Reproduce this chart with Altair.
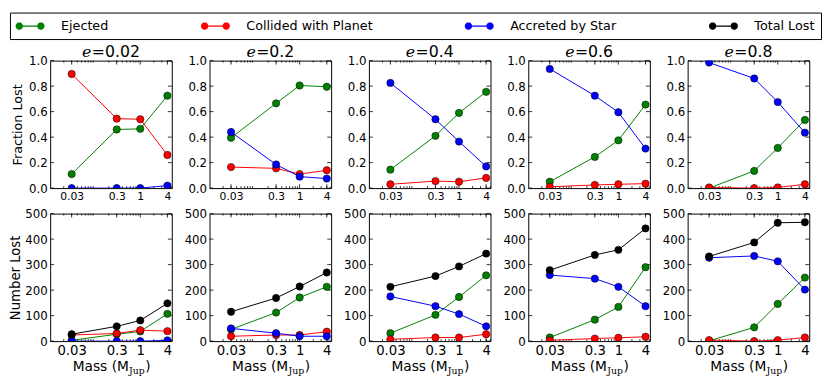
import math
import altair as alt
import pandas as pd

# ---------------- data ----------------
ECC = ["0.02", "0.2", "0.4", "0.6", "0.8"]
MASS = [0.03, 0.3, 1, 4]
SERIES = ["Ejected", "Collided with Planet", "Accreted by Star", "Total Lost"]
COLORS = ["#008000", "#ff0000", "#0000ff", "#000000"]

FRAC_EJECTED = [[0.11, 0.46, 0.465, 0.725], [0.395, 0.665, 0.805, 0.795], [0.145, 0.41, 0.59, 0.755],
                [0.05, 0.245, 0.375, 0.655], [0.0, 0.135, 0.315, 0.535]]
FRAC_COLLIDED = [[0.895, 0.545, 0.54, 0.26], [0.165, 0.155, 0.11, 0.14], [0.03, 0.055, 0.05, 0.08],
                 [0.01, 0.025, 0.03, 0.035], [0.005, 0.0, 0.005, 0.03]]
FRAC_ACCRETED = [[0.0, 0.0, 0.0, 0.02], [0.44, 0.185, 0.09, 0.075], [0.825, 0.54, 0.365, 0.17],
                 [0.935, 0.725, 0.595, 0.31], [0.985, 0.86, 0.675, 0.435]]

NUM_EJECTED = [[3, 27, 38, 107], [46, 112, 171, 213], [31, 103, 173, 258], [14, 84, 134, 290], [1, 54, 146, 249]]
NUM_COLLIDED = [[24, 30, 43, 39], [19, 24, 24, 37], [7, 14, 14, 27], [3, 10, 13, 17], [4, 0, 4, 14]]
NUM_ACCRETED = [[0, 0, 0, 3], [50, 31, 19, 19], [175, 137, 106, 58], [259, 245, 213, 137], [327, 334, 313, 202]]
NUM_TOTAL = [[27, 58, 81, 148], [115, 169, 214, 269], [213, 255, 293, 343], [278, 338, 358, 442], [332, 387, 464, 466]]

X_TICK_LABELS = [0.03, 0.3, 1, 4]
X_MINOR = [0.02, 0.03, 0.04, 0.05, 0.06, 0.07, 0.08, 0.09, 0.2, 0.3, 0.4, 0.5, 0.6, 0.7, 0.8, 0.9, 2, 3, 4, 5]
Y_TICKS_FRAC = [0.0, 0.2, 0.4, 0.6, 0.8, 1.0]
Y_TICKS_NUM = [0, 100, 200, 300, 400, 500]
X_DOMAIN = [0.01, 5]

# ---------------- layout / style ----------------
W, H = 124, 130
SANS = "DejaVu Sans"
SERIF = "DejaVu Serif"

cscale = alt.Scale(domain=SERIES, range=COLORS)


def poly_circle(cx, r, n=18):
    pts = [(cx + r * math.cos(2 * math.pi * k / n), r * math.sin(2 * math.pi * k / n)) for k in range(n)]
    return "M" + " L".join(f"{x:.3f},{y:.3f}" for x, y in pts) + " Z"


SYMBOL_PATH = ("M-1.467,-0.08 L1.467,-0.08 L1.467,0.08 L-1.467,0.08 Z "
               + poly_circle(-1.467, 0.5) + " " + poly_circle(1.467, 0.5))

legend = alt.Legend(
    title=None, orient="none", legendX=-41, legendY=-49, direction="horizontal", columns=4,
    columnPadding=93, padding=6, strokeColor="black", fillColor="white", cornerRadius=0,
    symbolType=SYMBOL_PATH, symbolSize=225, symbolOffset=7, symbolStrokeWidth=0,
    labelOffset=24, labelFontSize=13, labelFont=SANS, labelColor="black", rowPadding=0,
    labelLimit=300,
)


def long_df(arrays, names, i):
    rows = []
    for s, arr in zip(names, arrays):
        for m, v in zip(MASS, arr[i]):
            rows.append({"mass": m, "series": s, "value": v})
    return pd.DataFrame(rows)


def text_layer(txt, x, y, size, font, style="normal", align="left"):
    return alt.Chart(pd.DataFrame({"label": [txt]})).mark_text(
        align=align, baseline="alphabetic", fontSize=size, font=font, fontStyle=style, color="black"
    ).encode(x=alt.value(x), y=alt.value(y), text="label:N")


def panel(df, i, row):
    xs = alt.Scale(type="log", domain=X_DOMAIN, nice=False)
    ydom = [0, 1] if row == 0 else [0, 500]
    ys = alt.Scale(domain=ydom, nice=False, zero=False)
    yvals = Y_TICKS_FRAC if row == 0 else Y_TICKS_NUM
    ytitle = None
    if i == 0:
        ytitle = "Fraction Lost" if row == 0 else "Number Lost"
    xaxis = alt.Axis(values=X_TICK_LABELS, format="~g", title=None, ticks=False, tickSize=0, domain=False,
                     grid=False, labelFontSize=11 if row == 0 else 13.5, labelPadding=3, labelColor="black",
                     labelFont=SANS, labelFlush=False, labelOverlap=False)
    yaxis = alt.Axis(values=yvals, format=".1f" if row == 0 else "d", title=ytitle, ticks=False, tickSize=0,
                     domain=False, grid=False, labelFontSize=12, labelPadding=3, labelColor="black",
                     labelFont=SANS, titleFont=SANS, titleFontSize=13 if row == 0 else 13.5,
                     titleFontWeight="normal", titleColor="black", titlePadding=4 if row == 0 else 2,
                     labelFlush=False)

    def xrule(vals, top, length):
        d = pd.DataFrame({"t": vals})
        y0, y1 = (0, length) if top else (H, H - length)
        return alt.Chart(d).mark_rule(color="black", strokeWidth=0.8).encode(
            x=alt.X("t:Q", scale=xs, axis=xaxis), y=alt.value(y0), y2=alt.value(y1))

    def yrule(vals, right, length):
        d = pd.DataFrame({"t": vals})
        x0, x1 = (W, W - length) if right else (0, length)
        return alt.Chart(d).mark_rule(color="black", strokeWidth=0.8).encode(
            y=alt.Y("t:Q", scale=ys, axis=yaxis), x=alt.value(x0), x2=alt.value(x1))

    ticks = [xrule(X_MINOR, False, 2), xrule(X_MINOR, True, 2),
             xrule(X_TICK_LABELS, False, 4), xrule(X_TICK_LABELS, True, 4),
             yrule(yvals, False, 4), yrule(yvals, True, 4)]

    base = alt.Chart(df)
    line = base.mark_line(strokeWidth=1, clip=True).encode(
        x=alt.X("mass:Q", scale=xs, axis=xaxis),
        y=alt.Y("value:Q", scale=ys, axis=yaxis),
        color=alt.Color("series:N", scale=cscale, legend=legend),
    )
    pts = base.mark_point(filled=True, size=56, stroke="black", strokeWidth=0.5, opacity=1, clip=True).encode(
        x=alt.X("mass:Q", scale=xs, axis=xaxis),
        y=alt.Y("value:Q", scale=ys, axis=yaxis),
        color=alt.Color("series:N", scale=cscale, legend=legend),
        order=alt.Order("ord:Q"),
    )

    texts = []
    if row == 0:
        val = ECC[i]
        val_w = sum(0.318 if ch == "." else 0.636 for ch in val) * 16
        total = 23.4 + val_w
        start = W / 2 - total / 2
        texts += [text_layer("e", start, -4, 16, SERIF, "italic"),
                  text_layer("=", start + 10, -4, 16, SERIF),
                  text_layer(val, start + 23.4, -4, 16, SANS)]
    else:
        start = 23
        texts += [text_layer("Mass (M", start, H + 30, 14, SANS),
                  text_layer("Jup", start + 57.5, H + 34, 9.5, SERIF),
                  text_layer(")", start + 74, H + 30, 14, SANS)]

    return alt.layer(*ticks, line, pts, *texts).properties(width=W, height=H)


panels = []
for i in range(5):
    d = long_df([FRAC_EJECTED, FRAC_COLLIDED, FRAC_ACCRETED], SERIES[:3], i)
    d["ord"] = range(len(d))
    panels.append(panel(d, i, 0))
for i in range(5):
    d = long_df([NUM_EJECTED, NUM_COLLIDED, NUM_ACCRETED, NUM_TOTAL], SERIES, i)
    d["ord"] = range(len(d))
    panels.append(panel(d, i, 1))

chart = alt.concat(*panels, columns=5, spacing={"row": 26, "column": 38.5}, bounds="flush") \
    .resolve_scale(color="shared") \
    .properties(padding=0) \
    .configure(font=SANS) \
    .configure_view(stroke="black", strokeWidth=1)

chart.save("out.html", embed_options={"renderer": "svg", "actions": False})
